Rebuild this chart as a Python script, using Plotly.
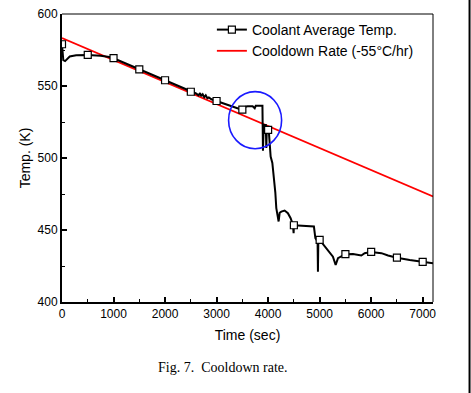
import plotly.graph_objects as go

# Coolant average temperature (dense trace)
time_s = [0, 25, 60, 150, 275, 500, 750, 920, 1000, 1250, 1500, 1750, 2000, 2250, 2500,
          2600, 2650, 2680, 2700, 2730, 2760, 2790, 2820, 2850, 2900, 3000, 3100, 3200,
          3300, 3400, 3480, 3500, 3530, 3560, 3600, 3700, 3740, 3760, 3890, 3900, 3915,
          3955, 3965, 3975, 4000, 4016, 4043, 4049, 4082, 4113, 4140, 4159, 4190,
          4204, 4225, 4256, 4320, 4384, 4437, 4482, 4495, 4500, 4578, 4709, 4889, 4917,
          4960, 4967, 4975, 5000, 5130, 5258, 5311, 5356, 5500, 5647, 5809, 5874, 6000,
          6198, 6327, 6500, 6748, 7000, 7200]
temp_k = [579.0, 568.0, 567.3, 570.5, 571.3, 571.6, 571.0, 570.2, 569.3, 565.5, 561.6,
          557.8, 554.0, 550.0, 546.0, 544.8, 543.5, 545.0, 543.0, 544.3, 542.2, 543.5,
          541.5, 542.0, 540.8, 539.6, 538.6, 537.4, 536.0, 535.0, 533.8, 533.6, 533.0,
          535.5, 535.9, 535.9, 534.5, 536.2, 536.2, 505.0, 523.0, 523.0, 507.0, 521.0,
          519.5, 517.4, 508.0, 501.0, 496.6, 487.0, 476.0, 465.2, 460.0, 455.9,
          462.0, 462.8, 463.5, 461.7, 458.2, 453.6, 447.8, 453.3, 453.1, 453.0, 452.4,
          444.3, 442.0, 421.0, 444.0, 443.1, 437.4, 431.5, 425.7, 430.4, 433.2, 433.4,
          432.3, 433.9, 434.8, 433.9, 432.3, 430.8, 429.2, 427.8, 426.9]
marker_times = [0, 500, 1000, 1500, 2000, 2500, 3000, 3500, 4000, 4500, 5000, 5500,
                6000, 6500, 7000]

# Cooldown rate line (-55 C/hr)
rate_time = [0, 7200]
rate_temp = [583.3, 473.3]

# Highlight circle (data coords)
circle_x = [3233, 4262]
circle_y = [506.4, 546.1]

x_ticks = [0, 1000, 2000, 3000, 4000, 5000, 6000, 7000]
y_ticks = [400, 450, 500, 550, 600]

mk_x = [t for t in time_s if t in marker_times]
mk_y = [v for t, v in zip(time_s, temp_k) if t in marker_times]

FONT = "Liberation Sans, Arial, sans-serif"
fig = go.Figure()

fig.add_trace(go.Scatter(x=rate_time, y=rate_temp, mode="lines",
                         name="Cooldown Rate (-55°C/hr)",
                         line=dict(color="#ff0000", width=1.8), legendrank=2))
fig.add_trace(go.Scatter(x=time_s, y=temp_k, mode="lines", showlegend=False,
                         line=dict(color="#000000", width=2)))
fig.add_trace(go.Scatter(x=mk_x, y=mk_y, mode="markers", showlegend=False,
                         marker=dict(symbol="square", size=7, color="#ffffff",
                                     line=dict(color="#000000", width=1.2))))
fig.add_trace(go.Scatter(x=[None], y=[None], mode="lines+markers",
                         name="Coolant Average Temp.", legendrank=1,
                         line=dict(color="#000000", width=2),
                         marker=dict(symbol="square", size=7, color="#ffffff",
                                     line=dict(color="#000000", width=1.2))))

fig.add_shape(type="circle", xref="x", yref="y", x0=circle_x[0], x1=circle_x[1],
              y0=circle_y[0], y1=circle_y[1], line=dict(color="#1a1aff", width=1.6))
# thin top/right frame
fig.add_shape(type="line", xref="paper", yref="paper", x0=0, x1=1, y0=1, y1=1,
              line=dict(color="#000000", width=1))
fig.add_shape(type="line", xref="paper", yref="paper", x0=1, x1=1, y0=0, y1=1,
              line=dict(color="#000000", width=1))
# image border on the far right
fig.add_shape(type="line", xref="paper", yref="paper", x0=1.0985, x1=1.0985,
              y0=-0.4, y1=1.1, line=dict(color="#000000", width=2))

fig.add_annotation(text="Fig. 7.  Cooldown rate.", xref="paper", yref="paper",
                   x=0.434, y=-0.229, showarrow=False, xanchor="center", yanchor="middle",
                   font=dict(family="Liberation Serif, Times New Roman, serif", size=14,
                             color="#000000"))

fig.update_xaxes(range=[0, 7200], tickmode="array", tickvals=x_ticks, automargin=False,
                 ticks="inside", ticklen=5, tickwidth=1.5, tickcolor="#000000",
                 minor=dict(dtick=500, ticks="inside", ticklen=3, tickwidth=1.2,
                            tickcolor="#000000"),
                 showline=True, linewidth=2, linecolor="#000000", showgrid=False,
                 zeroline=False, tickfont=dict(family=FONT, size=12, color="#000000"),
                 title=dict(text="Time (sec)", standoff=10,
                            font=dict(family=FONT, size=14, color="#000000")))
fig.update_yaxes(range=[400, 600], tickmode="array", tickvals=y_ticks, automargin=False,
                 ticks="inside", ticklen=5, tickwidth=1.5, tickcolor="#000000",
                 minor=dict(dtick=25, ticks="inside", ticklen=3, tickwidth=1.2,
                            tickcolor="#000000"),
                 showline=True, linewidth=2, linecolor="#000000", showgrid=False,
                 zeroline=False, tickfont=dict(family=FONT, size=12, color="#000000"),
                 title=dict(text="Temp. (K)", standoff=4,
                            font=dict(family=FONT, size=14, color="#000000")))

fig.update_layout(width=471, height=393, autosize=False,
                  margin=dict(l=62, r=38, t=14, b=91),
                  paper_bgcolor="#ffffff", plot_bgcolor="#ffffff",
                  font=dict(family=FONT, color="#000000"),
                  legend=dict(x=0.404, y=1.0, xanchor="left", yanchor="top",
                              bgcolor="rgba(0,0,0,0)", borderwidth=0,
                              font=dict(family=FONT, size=14, color="#000000"),
                              itemwidth=30, tracegroupgap=0))

fig.write_html("out.html", config={"displayModeBar": False},
               post_script="document.body.style.margin='0px';")
